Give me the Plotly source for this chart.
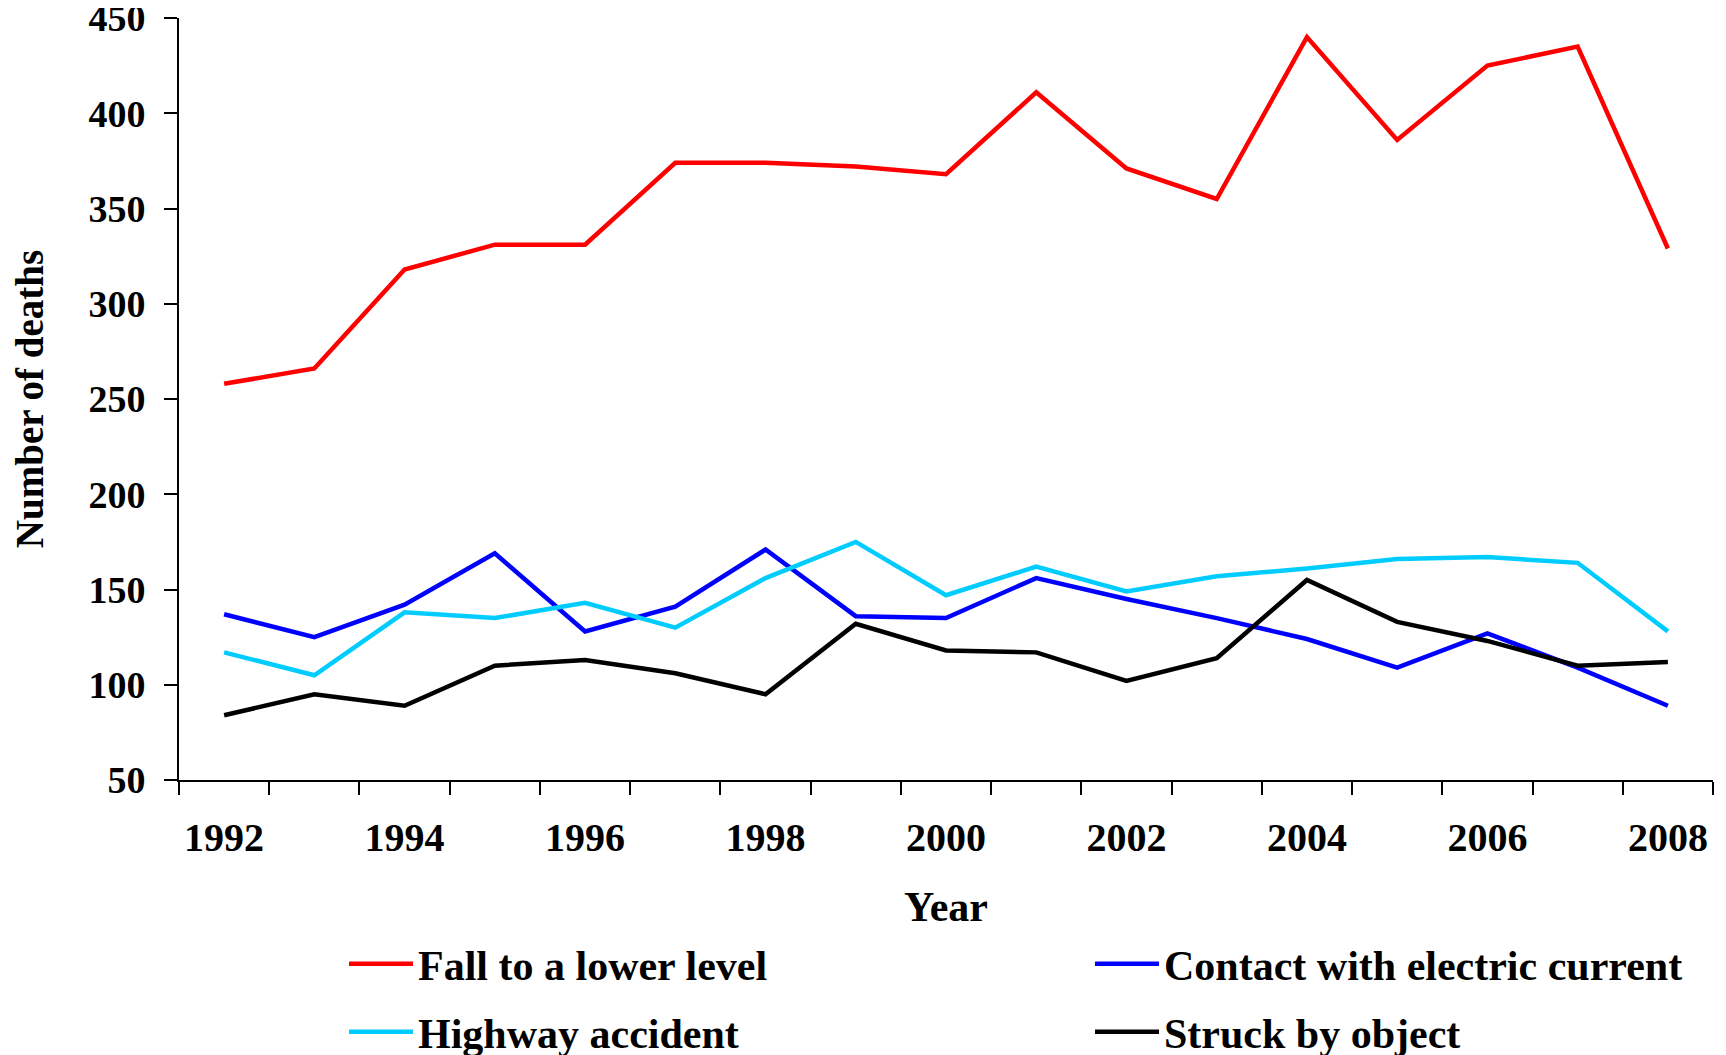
import plotly.graph_objects as go

years = list(range(1992, 2009))
fall = [258, 266, 318, 331, 331, 374, 374, 372, 368, 411, 371, 355, 440, 386, 425, 435, 329]
contact = [137, 125, 142, 169, 128, 141, 171, 136, 135, 156, 145, 135, 124, 109, 127, 109, 89]
highway = [117, 105, 138, 135, 143, 130, 156, 175, 147, 162, 149, 157, 161, 166, 167, 164, 128]
struck = [84, 95, 89, 110, 113, 106, 95, 132, 118, 117, 102, 114, 155, 133, 123, 110, 112]
year_labels = [str(y) for y in range(1992, 2009, 2)]
y_ticks = [50, 100, 150, 200, 250, 300, 350, 400, 450]

FONT = "Times New Roman, Liberation Serif, serif"
W, H = 1726, 1055

fig = go.Figure()
series = [
    ("Fall to a lower level", fall, "#FF0000", "legend"),
    ("Contact with electric current", contact, "#0000FF", "legend"),
    ("Highway accident", highway, "#00CCFF", "legend2"),
    ("Struck by object", struck, "#000000", "legend2"),
]
for name, vals, col, lg in series:
    fig.add_trace(go.Scatter(x=years, y=vals, mode="lines", name=name,
                             line=dict(color=col, width=4.5), legend=lg))

legend_common = dict(orientation="h", xref="container", yref="container",
                     xanchor="left", yanchor="middle", entrywidth=667,
                     font=dict(family=FONT, size=42, color="black", weight="bold"),
                     bgcolor="rgba(0,0,0,0)", itemwidth=64)

fig.update_layout(
    width=W, height=H,
    margin=dict(l=171, r=21, t=10, b=283, autoexpand=False),
    paper_bgcolor="white", plot_bgcolor="white",
    font=dict(family=FONT, size=40, color="black", weight="bold"),
    xaxis=dict(range=[1991.5, 2008.5], tickmode="array",
               tickvals=[int(t) for t in year_labels], ticktext=year_labels,
               tickfont=dict(family=FONT, size=40, weight="bold"),
               ticks="", showline=True, linecolor="black", linewidth=2,
               showgrid=False, zeroline=False, ticklabelstandoff=21, automargin=False,
               minor=dict(tickmode="linear", tick0=1991.5, dtick=1, ticks="outside",
                          ticklen=13, tickwidth=2, tickcolor="black", showgrid=False),
               title=dict(text="Year", font=dict(family=FONT, size=42, weight="bold"), standoff=36)),
    yaxis=dict(range=[50, 450], tickmode="array", tickvals=y_ticks,
               tickfont=dict(family=FONT, size=38, weight="bold"),
               ticks="outside", ticklen=13, tickwidth=2, tickcolor="black",
               showline=True, linecolor="black", linewidth=2, showgrid=False,
               zeroline=False, ticklabelstandoff=11, ticklabeloverflow="allow", automargin=False,
               title=dict(text="Number of deaths", font=dict(family=FONT, size=39, weight="bold"), standoff=40)),
    legend=dict(x=336 / W, y=1 - 956 / H, **legend_common),
    legend2=dict(x=336 / W, y=1 - 1024 / H, **legend_common),
    showlegend=True,
)

fig.write_html("out.html")
